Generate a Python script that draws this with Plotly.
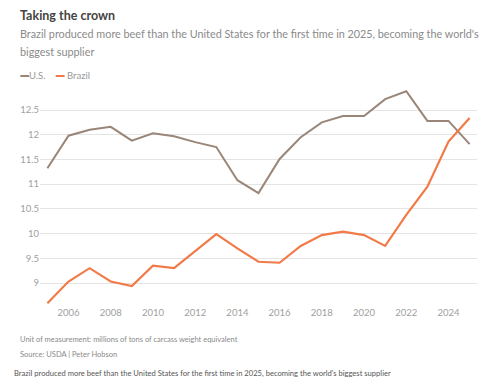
import plotly.graph_objects as go

years = list(range(2005, 2026))
us = [11.32, 11.98, 12.10, 12.16, 11.88, 12.03, 11.97, 11.85, 11.75, 11.08, 10.82,
      11.51, 11.95, 12.25, 12.38, 12.38, 12.72, 12.88, 12.28, 12.28, 11.81]
brazil = [8.59, 9.03, 9.30, 9.03, 8.94, 9.35, 9.30, 9.65, 9.99, 9.70, 9.43,
          9.41, 9.75, 9.97, 10.04, 9.97, 9.75, 10.38, 10.95, 11.86, 12.34]
y_ticks = [9, 9.5, 10, 10.5, 11, 11.5, 12, 12.5]
y_ticklabels = ["9", "9.5", "10", "10.5", "11", "11.5", "12", "12.5"]
x_ticks = [2006, 2008, 2010, 2012, 2014, 2016, 2018, 2020, 2022, 2024]

US_COLOR = "#9a8678"
BR_COLOR = "#f27a48"
FONT = "Lato"

# page body has an 8px margin, so the figure is drawn 8px smaller and all
# reference pixel positions are shifted by -8
OFF = 8
W, H = 500 - OFF, 383 - OFF
L, R, T, B = 33 - OFF, 477 - OFF, 85 - OFF, 305 - OFF

def px(x):
    return (x - OFF - L) / (R - L)

def py(y):
    return (B - (y - OFF)) / (B - T)

fig = go.Figure()
fig.add_trace(go.Scatter(x=years, y=us, mode="lines", name="U.S.",
                         line=dict(color=US_COLOR, width=2)))
fig.add_trace(go.Scatter(x=years, y=brazil, mode="lines", name="Brazil",
                         line=dict(color=BR_COLOR, width=2.2)))

fig.update_layout(
    width=W, height=H,
    margin=dict(l=L, r=W - R, t=T, b=H - B, pad=0),
    paper_bgcolor="white", plot_bgcolor="white",
    showlegend=False,
    font=dict(family=FONT, size=10, color="#999999"),
    xaxis=dict(range=[2004.65, 2025.35], tickmode="array", tickvals=x_ticks,
               showgrid=False, zeroline=False, showline=False, ticks="",
               tickfont=dict(size=9.5, color="#a0a0a0")),
    yaxis=dict(range=[8.555, 13.006], tickmode="array", tickvals=y_ticks,
               ticktext=y_ticklabels, showgrid=True, gridcolor="#e4e4e4",
               gridwidth=1, zeroline=False, showline=False, ticks="",
               tickfont=dict(size=9.5, color="#a0a0a0")),
)

ann = []
def text(x, y, s, size, color):
    ann.append(dict(x=px(x), y=py(y), xref="paper", yref="paper", text=s,
                    showarrow=False, xanchor="left", yanchor="middle",
                    font=dict(family=FONT, size=size, color=color)))

text(11, 15, "<b>Taking the crown</b>", 12.5, "#444444")
text(11, 34, "Brazil produced more beef than the United States for the first time in 2025, becoming the world's", 10.8, "#8a8a8a")
text(11, 51, "biggest supplier", 10.8, "#8a8a8a")
text(20, 76, "U.S.", 9.5, "#999999")
text(58, 76, "Brazil", 9.5, "#999999")
text(11, 339, "Unit of measurement: millions of tons of carcass weight equivalent", 7.5, "#8a8a8a")
text(11, 354, "Source: USDA | Peter Hobson", 7.5, "#8a8a8a")
text(5, 373, "Brazil produced more beef than the United States for the first time in 2025, becoming the world's biggest supplier", 7.6, "#555555")

shapes = [
    dict(type="line", xref="paper", yref="paper", x0=px(13), x1=px(22), y0=py(76), y1=py(76),
         line=dict(color=US_COLOR, width=2)),
    dict(type="line", xref="paper", yref="paper", x0=px(49), x1=px(58), y0=py(76), y1=py(76),
         line=dict(color=BR_COLOR, width=2)),
]
fig.update_layout(annotations=ann, shapes=shapes)

fig.write_html("out.html")
